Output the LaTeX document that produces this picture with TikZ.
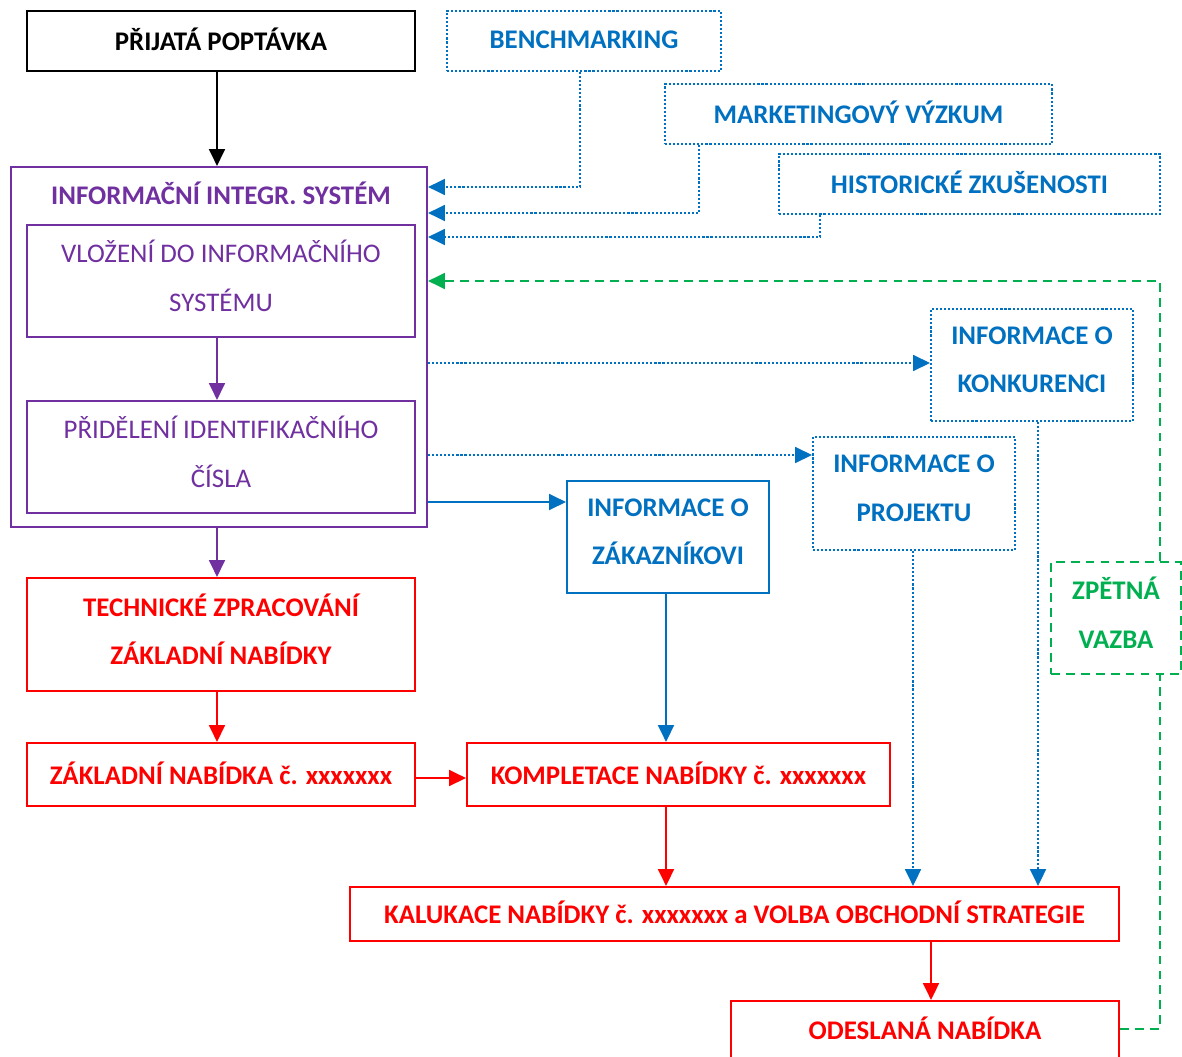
\documentclass[tikz,border=0pt]{standalone}
\usepackage{fontspec}
\setmainfont{Carlito}
\usetikzlibrary{arrows.meta}
\definecolor{cblue}{HTML}{0070C0}
\definecolor{cpurple}{HTML}{7030A0}
\definecolor{cred}{HTML}{FF0000}
\definecolor{cgreen}{HTML}{00B050}

% box given by its corners: name, x1, y1, x2, y2, style, text
\newcommand\flowbox[7]{%
  \node[#6, minimum width={(#4-#2)*0.02cm}, minimum height={(#5-#3)*0.02cm}]
    (#1) at ({(#2+#4)/2},{(#3+#5)/2}) {#7};}

\tikzset{
  box/.style={draw, line width=1.25pt, inner sep=0pt, align=center, text depth=6pt,
    font=\fontsize{15.3}{27.8}\selectfont\bfseries},
  oneline/.style={text depth=2pt},
  blackbox/.style={box, draw=black, text=black},
  bluedot/.style={box, draw=cblue, text=cblue, dash pattern=on 1.2pt off 1.1pt},
  bluesolid/.style={box, draw=cblue, text=cblue},
  redbox/.style={box, draw=cred, text=cred},
  purplebox/.style={box, draw=cpurple, text=cpurple,
    font=\fontsize{15.3}{27.8}\selectfont},
  greenbox/.style={box, draw=cgreen, text=cgreen, dash pattern=on 5pt off 3.5pt},
  tip/.style={-{Triangle[length=9.5pt,width=9pt]}},
  conn/.style={tip, line width=1.3pt},
  blk/.style={conn, draw=black},
  purp/.style={conn, draw=cpurple},
  redc/.style={conn, draw=cred},
  bluec/.style={conn, draw=cblue},
  bluedc/.style={conn, draw=cblue, dash pattern=on 1.2pt off 1.1pt},
  greenc/.style={line width=1.3pt, draw=cgreen, dash pattern=on 5pt off 3.5pt},
}

\begin{document}
\begin{tikzpicture}[x=0.02cm, y=-0.02cm]
  \clip (0,0) rectangle (1182,1057);
  \fill[white] (0,0) rectangle (1182,1057);

  % request and information sources
  \flowbox{req}{27}{11}{415}{71}{blackbox,oneline}{PŘIJATÁ POPTÁVKA}
  \flowbox{bench}{447}{11}{721}{71}{bluedot,oneline}{BENCHMARKING}
  \flowbox{mkt}{665}{84}{1052}{144}{bluedot,oneline}{MARKETINGOVÝ VÝZKUM}
  \flowbox{hist}{779}{154}{1160}{214}{bluedot,oneline}{HISTORICKÉ ZKUŠENOSTI}

  % information system with its two steps
  \flowbox{iis}{11}{167}{427}{527}{purplebox}{}
  \node[text=cpurple, font=\fontsize{15.3}{18}\selectfont\bfseries, inner sep=0pt]
    (iistitle) at (221,193) {INFORMAČNÍ INTEGR. SYSTÉM};
  \flowbox{vloz}{27}{225}{415}{337}{purplebox}{VLOŽENÍ DO INFORMAČNÍHO\\SYSTÉMU}
  \flowbox{prid}{27}{401}{415}{513}{purplebox}{PŘIDĚLENÍ IDENTIFIKAČNÍHO\\ČÍSLA}

  % information boxes on the right
  \flowbox{konk}{931}{309}{1133}{421}{bluedot}{INFORMACE O\\KONKURENCI}
  \flowbox{proj}{813}{437}{1015}{550}{bluedot}{INFORMACE O\\PROJEKTU}
  \flowbox{zak}{567}{481}{769}{593}{bluesolid}{INFORMACE O\\ZÁKAZNÍKOVI}
  \flowbox{zv}{1051}{562}{1181}{674}{greenbox}{ZPĚTNÁ\\VAZBA}

  % offer processing chain
  \flowbox{tech}{27}{578}{415}{691}{redbox}{TECHNICKÉ ZPRACOVÁNÍ\\ZÁKLADNÍ NABÍDKY}
  \flowbox{zakl}{27}{743}{415}{806}{redbox,oneline}{ZÁKLADNÍ NABÍDKA č. xxxxxxx}
  \flowbox{komp}{467}{743}{890}{806}{redbox,oneline}{KOMPLETACE NABÍDKY č. xxxxxxx}
  \flowbox{kal}{350}{887}{1119}{941}{redbox,oneline}{KALUKACE NABÍDKY č. xxxxxxx a VOLBA OBCHODNÍ STRATEGIE}
  \flowbox{odes}{731}{1001}{1119}{1059}{redbox,oneline}{ODESLANÁ NABÍDKA}

  % connectors
  \draw[blk] (req.south -| 217,0) -- (iis.north -| 217,0);
  \draw[bluedc] (bench.south -| 580,0) |- (iis.east |- 0,187);
  \draw[bluedc] (mkt.south -| 699,0) |- (iis.east |- 0,213);
  \draw[bluedc] (hist.south -| 820,0) |- (iis.east |- 0,237);
  \draw[purp] (vloz.south -| 217,0) -- (prid.north -| 217,0);
  \draw[purp] (iis.south -| 217,0) -- (tech.north -| 217,0);
  \draw[bluedc] (iis.east |- 0,363) -- (konk.west |- 0,363);
  \draw[bluedc] (iis.east |- 0,455) -- (proj.west |- 0,455);
  \draw[bluec] (iis.east |- 0,502) -- (zak.west |- 0,502);
  \draw[bluec] (zak.south -| 666,0) -- (komp.north -| 666,0);
  \draw[redc] (tech.south -| 217,0) -- (zakl.north -| 217,0);
  \draw[redc] (zakl.east |- 0,778) -- (komp.west |- 0,778);
  \draw[redc] (komp.south -| 666,0) -- (kal.north -| 666,0);
  \draw[bluedc] (proj.south -| 913,0) -- (kal.north -| 913,0);
  \draw[bluedc] (konk.south -| 1038,0) -- (kal.north -| 1038,0);
  \draw[redc] (kal.south -| 931,0) -- (odes.north -| 931,0);

  % feedback loop
  \draw[greenc] (odes.east |- 0,1029) -| (zv.south -| 1160,0);
  \draw[greenc, tip] (zv.north -| 1160,0) |- (iis.east |- 0,281);
\end{tikzpicture}
\end{document}
